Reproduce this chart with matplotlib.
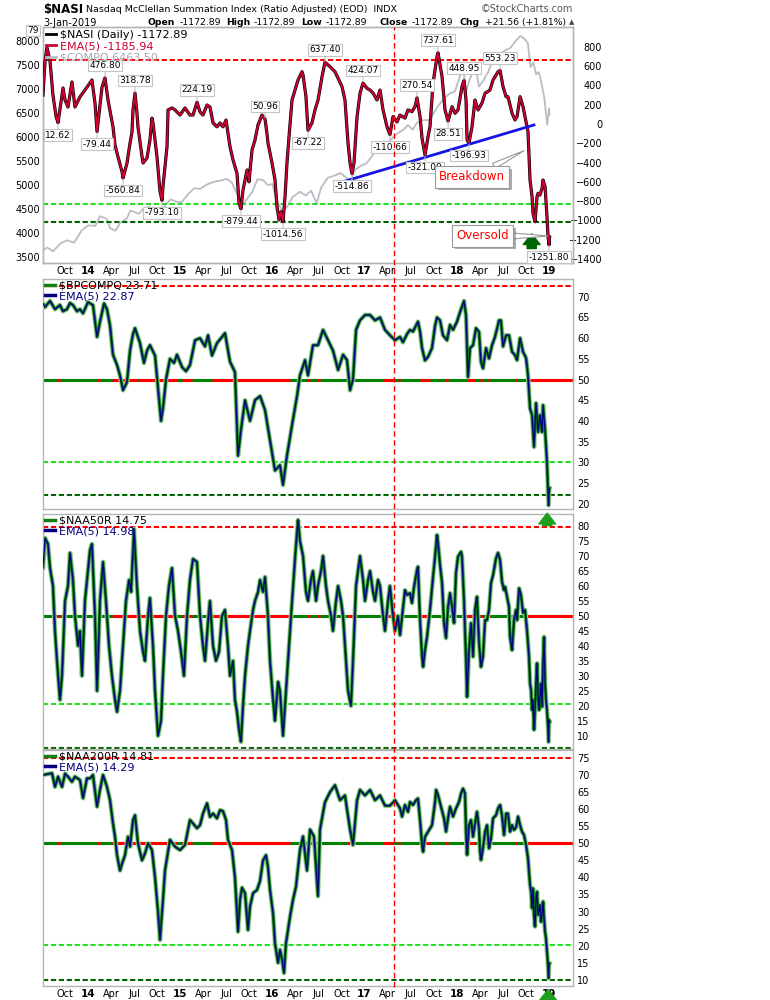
import numpy as np
import matplotlib
matplotlib.use('Agg')
import matplotlib.pyplot as plt
import matplotlib.transforms as mtransforms
import matplotlib.patheffects as pe
from matplotlib.lines import Line2D

# ---- values (x = decimal years) ----
nasi_t = [2013.512, 2013.534, 2013.555, 2013.588, 2013.620, 2013.653, 2013.675, 2013.696, 2013.729, 2013.751,
          2013.783, 2013.826, 2013.859, 2013.913, 2013.989, 2014.043, 2014.076, 2014.098, 2014.152, 2014.184,
          2014.217, 2014.271, 2014.293, 2014.325, 2014.369, 2014.380, 2014.423, 2014.456, 2014.477, 2014.488,
          2014.510, 2014.531, 2014.542, 2014.586, 2014.597, 2014.640, 2014.672, 2014.694, 2014.705, 2014.748,
          2014.781, 2014.803, 2014.813, 2014.857, 2014.868, 2014.911, 2014.944, 2014.998, 2015.052, 2015.106,
          2015.139, 2015.182, 2015.215, 2015.247, 2015.291, 2015.323, 2015.356, 2015.399, 2015.432, 2015.464,
          2015.497, 2015.518, 2015.540, 2015.573, 2015.616, 2015.638, 2015.659, 2015.681, 2015.703, 2015.725,
          2015.746, 2015.779, 2015.811, 2015.844, 2015.887, 2015.920, 2015.941, 2015.952, 2015.996, 2016.028,
          2016.050, 2016.072, 2016.093, 2016.115, 2016.137, 2016.158, 2016.180, 2016.213, 2016.245, 2016.278,
          2016.321, 2016.332, 2016.364, 2016.386, 2016.429, 2016.462, 2016.495, 2016.538, 2016.570, 2016.625,
          2016.679, 2016.712, 2016.755, 2016.787, 2016.820, 2016.842, 2016.863, 2016.885, 2016.918, 2016.950,
          2016.983, 2017.026, 2017.059, 2017.091, 2017.134, 2017.167, 2017.200, 2017.243, 2017.275, 2017.308,
          2017.351, 2017.384, 2017.438, 2017.471, 2017.514, 2017.547, 2017.568, 2017.601, 2017.623, 2017.655,
          2017.688, 2017.709, 2017.742, 2017.785, 2017.796, 2017.840, 2017.872, 2017.905, 2017.948, 2017.981,
          2018.013, 2018.056, 2018.078, 2018.100, 2018.111, 2018.132, 2018.165, 2018.197, 2018.230, 2018.273,
          2018.306, 2018.360, 2018.393, 2018.447, 2018.469, 2018.501, 2018.534, 2018.555, 2018.599, 2018.631,
          2018.653, 2018.686, 2018.718, 2018.740, 2018.772, 2018.794, 2018.816, 2018.826, 2018.848, 2018.870,
          2018.881, 2018.902, 2018.924, 2018.935, 2018.957, 2018.978, 2018.989, 2019.000, 2019.006]
nasi_v = [300, 650, 792, 650, 300, 80, 12.62, 150, 372, 248,
          175, 435, 175, 280, 380, 455, 215, -79.44, 380, 476.80,
          248, -30, -218, -340, -495, -560.84, -406, -198, -85, 145,
          318.78, 112, -30, -340, -405, -353, -167, 60, 10, -340,
          -700, -793.10, -650, -236, 145, 165, 145, 92, 165, 92,
          92, 224.19, 124, 92, 196, 175, 10, -30, 10, -30,
          40, -95, -236, -374, -512, -820, -879.44, -685, -581, -477,
          -600, -270, -167, -11, 92, 50.96, -100, -198, -405, -580,
          -857, -995, -910, -1014.56, -754, -405, -132, 248, 351, 455,
          540, 507, 282, -67.22, 10, 145, 248, 490, 637.40, 593,
          540, 473, 386, 248, -198, -405, -514.86, -405, 75, 317,
          424.07, 369, 351, 320, 248, 351, 145, -30, -110.66, 75,
          20, 92, 60, 145, 127, 180, 270.54, 75, -150, -321.09,
          -132, -28, 421, 696, 737.61, 489, 145, 28.51, 178, 110,
          145, 386, 448.95, 248, -167, -196.93, -28, 248, 145, 216,
          317, 351, 455, 540, 553.23, 386, 282, 282, 110, 41,
          75, 282, 178, 75, -80, -581, -754, -926, -1013, -754,
          -719, -737, -667, -581, -650, -961, -1168, -1251.80, -1172.89]

compq_t = [2013.512, 2013.56, 2013.62, 2013.70, 2013.77, 2013.85, 2013.93, 2014.00, 2014.08, 2014.13,
           2014.20, 2014.24, 2014.30, 2014.35, 2014.42, 2014.46, 2014.55, 2014.60, 2014.67, 2014.72,
           2014.78, 2014.84, 2014.90, 2014.96, 2015.02, 2015.08, 2015.15, 2015.22, 2015.28, 2015.34,
           2015.40, 2015.46, 2015.50, 2015.56, 2015.62, 2015.66, 2015.72, 2015.78, 2015.84, 2015.90,
           2015.95, 2016.00, 2016.04, 2016.11, 2016.16, 2016.22, 2016.30, 2016.36, 2016.42, 2016.48,
           2016.53, 2016.60, 2016.68, 2016.74, 2016.80, 2016.85, 2016.90, 2016.96, 2017.02, 2017.10,
           2017.18, 2017.26, 2017.34, 2017.42, 2017.47, 2017.52, 2017.57, 2017.64, 2017.70, 2017.75,
           2017.80, 2017.86, 2017.92, 2017.98, 2018.04, 2018.07, 2018.10, 2018.14, 2018.20, 2018.24,
           2018.28, 2018.34, 2018.40, 2018.46, 2018.52, 2018.58, 2018.64, 2018.69, 2018.73, 2018.77,
           2018.80, 2018.83, 2018.86, 2018.89, 2018.92, 2018.95, 2018.98, 2019.00, 2019.006]
compq_v = [3640, 3700, 3620, 3780, 3850, 3800, 4050, 4160, 4150, 4350,
           4300, 4100, 4050, 4220, 4300, 4470, 4400, 4500, 4550, 4450,
           4250, 4600, 4700, 4650, 4650, 4800, 4930, 4920, 5000, 5050,
           5080, 5100, 5130, 5050, 4800, 4550, 4700, 4850, 5120, 5100,
           5000, 5020, 4700, 4450, 4550, 4750, 4860, 4780, 4880, 4620,
           4950, 5150, 5200, 5250, 5150, 5100, 5320, 5400, 5450, 5650,
           5850, 5900, 6050, 6150, 6250, 6150, 6300, 6350, 6350, 6500,
           6650, 6800, 6900, 6950, 7300, 7450, 6950, 7200, 7480, 7050,
           7150, 7350, 7650, 7700, 7800, 7850, 8000, 8100, 8050, 7950,
           7450, 7550, 7300, 7350, 7100, 6800, 6250, 6600, 6463.50]

bp_t = [2013.512, 2013.534, 2013.588, 2013.642, 2013.696, 2013.729, 2013.772, 2013.805, 2013.837, 2013.881,
        2013.913, 2013.946, 2014.000, 2014.054, 2014.098, 2014.130, 2014.174, 2014.206, 2014.239, 2014.271,
        2014.315, 2014.347, 2014.380, 2014.423, 2014.456, 2014.488, 2014.510, 2014.564, 2014.607, 2014.640,
        2014.672, 2014.727, 2014.759, 2014.792, 2014.813, 2014.846, 2014.889, 2014.933, 2014.965, 2015.020,
        2015.063, 2015.106, 2015.161, 2015.215, 2015.269, 2015.302, 2015.345, 2015.399, 2015.443, 2015.486,
        2015.540, 2015.594, 2015.627, 2015.659, 2015.703, 2015.757, 2015.811, 2015.866, 2015.920, 2015.974,
        2016.028, 2016.082, 2016.115, 2016.158, 2016.213, 2016.267, 2016.299, 2016.354, 2016.386, 2016.440,
        2016.494, 2016.549, 2016.603, 2016.657, 2016.712, 2016.766, 2016.809, 2016.842, 2016.874, 2016.907,
        2016.950, 2017.004, 2017.059, 2017.113, 2017.167, 2017.221, 2017.275, 2017.330, 2017.384, 2017.416,
        2017.460, 2017.492, 2017.525, 2017.579, 2017.601, 2017.623, 2017.655, 2017.688, 2017.731, 2017.764,
        2017.785, 2017.818, 2017.850, 2017.894, 2017.926, 2017.959, 2018.002, 2018.035, 2018.078, 2018.100,
        2018.121, 2018.143, 2018.176, 2018.208, 2018.241, 2018.262, 2018.284, 2018.317, 2018.349, 2018.382,
        2018.414, 2018.458, 2018.479, 2018.501, 2018.534, 2018.566, 2018.599, 2018.631, 2018.653, 2018.686,
        2018.718, 2018.751, 2018.772, 2018.794, 2018.816, 2018.837, 2018.859, 2018.881, 2018.902, 2018.924,
        2018.935, 2018.957, 2018.978, 2018.995, 2019.000, 2019.006]
bp_v = [68.4, 67.5, 69, 67, 68, 66.5, 67, 68.5, 68, 66.5,
        67, 66, 68.7, 68, 60.3, 64, 68.4, 67, 63, 56,
        53.5, 51, 47.4, 49.4, 57, 61, 62.4, 58.8, 54, 57,
        58.3, 55.8, 48, 40, 43, 50, 55, 54, 56, 53,
        52, 53.5, 59.5, 60, 58, 60.7, 55.8, 58.8, 60, 61.2,
        54.3, 51.8, 31.6, 37.8, 45, 40, 45, 46, 42.6, 35.3,
        28, 29.3, 24.5, 31.6, 39, 46, 51, 54.7, 51, 58.3,
        58.3, 62, 59.5, 57, 52.3, 56, 54.7, 47.4, 50, 62,
        64.3, 65.6, 65.6, 64.3, 65, 62, 60.7, 59.5, 60.3, 59,
        61, 62, 61.6, 64, 61.6, 57.6, 54.6, 55.5, 57.6, 63,
        65, 64.3, 60.7, 59.5, 63.2, 62, 64, 66.3, 69, 65.5,
        50.6, 57.6, 58.3, 62.4, 61.5, 54.3, 52.7, 57.6, 55.1, 58.3,
        60.3, 64.3, 64.3, 58, 60.7, 60.7, 56.7, 55.9, 54.7, 60,
        56.7, 55.2, 51, 43, 41.4, 33.7, 44.3, 37.3, 41.4, 37.3,
        43.8, 37.8, 30, 19.6, 22.8, 23.71]

n50_t = [2013.512, 2013.534, 2013.566, 2013.588, 2013.620, 2013.642, 2013.664, 2013.696, 2013.718, 2013.751,
         2013.783, 2013.805, 2013.837, 2013.859, 2013.892, 2013.913, 2013.935, 2013.967, 2014.000, 2014.022,
         2014.043, 2014.076, 2014.098, 2014.130, 2014.163, 2014.195, 2014.228, 2014.260, 2014.293, 2014.315,
         2014.347, 2014.380, 2014.412, 2014.445, 2014.467, 2014.499, 2014.531, 2014.564, 2014.597, 2014.618,
         2014.651, 2014.672, 2014.705, 2014.727, 2014.759, 2014.792, 2014.813, 2014.846, 2014.878, 2014.911,
         2014.944, 2014.976, 2015.009, 2015.041, 2015.074, 2015.106, 2015.139, 2015.182, 2015.215, 2015.247,
         2015.269, 2015.302, 2015.323, 2015.356, 2015.388, 2015.421, 2015.453, 2015.486, 2015.518, 2015.540,
         2015.573, 2015.594, 2015.616, 2015.638, 2015.659, 2015.681, 2015.703, 2015.735, 2015.757, 2015.790,
         2015.811, 2015.844, 2015.866, 2015.898, 2015.920, 2015.952, 2015.974, 2016.007, 2016.028, 2016.061,
         2016.082, 2016.115, 2016.147, 2016.180, 2016.213, 2016.245, 2016.267, 2016.278, 2016.299, 2016.332,
         2016.364, 2016.386, 2016.418, 2016.440, 2016.473, 2016.494, 2016.527, 2016.549, 2016.581, 2016.603,
         2016.636, 2016.657, 2016.690, 2016.712, 2016.744, 2016.766, 2016.798, 2016.820, 2016.852, 2016.874,
         2016.907, 2016.929, 2016.950, 2016.983, 2017.004, 2017.037, 2017.059, 2017.091, 2017.113, 2017.145,
         2017.167, 2017.200, 2017.221, 2017.254, 2017.275, 2017.308, 2017.330, 2017.362, 2017.384, 2017.406,
         2017.438, 2017.460, 2017.492, 2017.514, 2017.536, 2017.568, 2017.579, 2017.601, 2017.623, 2017.634,
         2017.655, 2017.677, 2017.709, 2017.742, 2017.764, 2017.785, 2017.796, 2017.818, 2017.840, 2017.861,
         2017.883, 2017.905, 2017.926, 2017.948, 2017.970, 2017.991, 2018.013, 2018.046, 2018.056, 2018.078,
         2018.100, 2018.111, 2018.132, 2018.154, 2018.176, 2018.197, 2018.219, 2018.241, 2018.262, 2018.284,
         2018.306, 2018.328, 2018.349, 2018.371, 2018.393, 2018.425, 2018.447, 2018.469, 2018.490, 2018.512,
         2018.523, 2018.545, 2018.566, 2018.577, 2018.599, 2018.620, 2018.642, 2018.653, 2018.675, 2018.696,
         2018.718, 2018.740, 2018.761, 2018.783, 2018.794, 2018.805, 2018.816, 2018.826, 2018.837, 2018.848,
         2018.859, 2018.870, 2018.881, 2018.892, 2018.902, 2018.913, 2018.924, 2018.935, 2018.946, 2018.957,
         2018.967, 2018.978, 2018.989, 2018.995, 2019.000, 2019.006]
n50_v = [66, 76, 74, 66, 60, 45, 35, 22, 30, 55,
         60, 71, 62, 50, 40, 45, 30, 55, 65, 72,
         74, 50, 25, 55, 68, 55, 40, 30, 22, 18,
         25, 40, 55, 62, 58, 79, 60, 45, 38, 35,
         50, 56, 40, 25, 10, 15, 30, 50, 60, 66,
         50, 45, 38, 30, 50, 62, 69, 68, 50, 40,
         35, 48, 55, 40, 35, 38, 50, 52, 40, 30,
         35, 22, 18, 12, 8, 20, 30, 40, 45, 52,
         55, 58, 62, 58, 63, 50, 35, 22, 15, 28,
         25, 10, 25, 40, 55, 69, 78, 82, 75, 70,
         58, 55, 62, 65, 55, 60, 65, 70, 60, 55,
         50, 45, 55, 60, 55, 50, 35, 25, 20, 35,
         60, 65, 70, 62, 55, 62, 65, 58, 55, 62,
         60, 50, 45, 55, 60, 50, 45, 50, 43.6, 49.7,
         58.6, 57, 57.6, 54.3, 59.7, 65.3, 66.4, 48.6, 36.4, 33,
         38.6, 43, 52, 63, 69.8, 77, 74.3, 67, 61, 47.6,
         42.6, 53, 57.6, 53, 47.6, 64.3, 69.8, 71.4, 69.8, 55.3,
         35.3, 23, 38.6, 47.6, 36.4, 52, 56.4, 41, 33, 36.4,
         48.6, 48.6, 52, 61, 63.6, 69.2, 71, 68.7, 61.4, 58.6,
         59.7, 56.4, 53, 43, 38.6, 48.6, 52, 48.6, 59.2, 57,
         51, 52, 45.3, 36.4, 27.5, 25.3, 18.6, 22, 12, 18.6,
         27.5, 34.2, 23, 18.6, 23, 27.5, 19.7, 34.2, 43, 27.5,
         22, 18.6, 13, 8, 15.3, 14.75]

n200_t = [2013.512, 2013.610, 2013.642, 2013.675, 2013.718, 2013.751, 2013.783, 2013.826, 2013.859, 2013.913,
          2013.946, 2013.989, 2014.022, 2014.054, 2014.098, 2014.130, 2014.163, 2014.206, 2014.239, 2014.271,
          2014.293, 2014.315, 2014.347, 2014.369, 2014.401, 2014.434, 2014.456, 2014.488, 2014.510, 2014.542,
          2014.586, 2014.618, 2014.651, 2014.694, 2014.727, 2014.759, 2014.781, 2014.813, 2014.835, 2014.889,
          2014.944, 2014.998, 2015.052, 2015.106, 2015.139, 2015.182, 2015.215, 2015.247, 2015.291, 2015.323,
          2015.356, 2015.399, 2015.432, 2015.464, 2015.497, 2015.518, 2015.562, 2015.594, 2015.627, 2015.649,
          2015.670, 2015.703, 2015.735, 2015.757, 2015.790, 2015.833, 2015.866, 2015.898, 2015.931, 2015.952,
          2015.974, 2016.007, 2016.028, 2016.061, 2016.082, 2016.104, 2016.126, 2016.147, 2016.191, 2016.223,
          2016.256, 2016.299, 2016.332, 2016.375, 2016.408, 2016.451, 2016.494, 2016.516, 2016.570, 2016.625,
          2016.679, 2016.733, 2016.787, 2016.842, 2016.874, 2016.918, 2016.950, 2017.004, 2017.059, 2017.113,
          2017.167, 2017.221, 2017.275, 2017.330, 2017.384, 2017.406, 2017.438, 2017.471, 2017.492, 2017.525,
          2017.557, 2017.579, 2017.601, 2017.623, 2017.634, 2017.655, 2017.688, 2017.731, 2017.764, 2017.775,
          2017.796, 2017.829, 2017.861, 2017.883, 2017.905, 2017.926, 2017.959, 2017.991, 2018.024, 2018.046,
          2018.067, 2018.089, 2018.100, 2018.111, 2018.132, 2018.154, 2018.176, 2018.197, 2018.219, 2018.241,
          2018.252, 2018.262, 2018.284, 2018.306, 2018.328, 2018.349, 2018.371, 2018.393, 2018.425, 2018.447,
          2018.469, 2018.490, 2018.512, 2018.534, 2018.555, 2018.577, 2018.599, 2018.620, 2018.642, 2018.664,
          2018.686, 2018.707, 2018.729, 2018.751, 2018.772, 2018.794, 2018.805, 2018.816, 2018.826, 2018.837,
          2018.848, 2018.859, 2018.870, 2018.881, 2018.902, 2018.913, 2018.924, 2018.935, 2018.946, 2018.957,
          2018.967, 2018.978, 2018.989, 2018.995, 2019.000, 2019.006]
n200_v = [70, 70.5, 66.5, 69.5, 66.5, 70.4, 69.5, 68, 69.5, 68.5,
          63.2, 69, 69, 70, 60.7, 65.6, 70, 66.5, 62.6, 55.8,
          51.9, 46.5, 42, 44, 46.5, 51.9, 49, 56.8, 58.2, 50,
          45, 47, 50, 48, 40, 30, 21.7, 33.4, 42, 51,
          49, 48, 49.5, 56.8, 55.8, 54.4, 55.3, 58.7, 61.7, 57.7,
          58.7, 57.3, 59.7, 59.4, 56.8, 51, 48, 40, 24.1, 33.4,
          37, 35.4, 24.6, 31.4, 35.4, 36.3, 39, 45, 46.5, 43,
          36.3, 29.5, 20.7, 15, 18.8, 16, 12, 20.7, 28.5, 33.4,
          37.3, 48, 52, 42, 54, 52, 34.5, 54, 62, 65,
          67, 62.6, 64, 54, 49.5, 62.6, 65.6, 64, 65.6, 62.6,
          64, 61, 61, 62.6, 60.2, 57.8, 61.2, 59.2, 62.1, 61.2,
          62.6, 63.1, 56.8, 49.5, 47.5, 51.9, 53.4, 55.3, 62.1, 65.6,
          64.1, 60.7, 57.3, 53.4, 57.3, 60.7, 57.8, 60.2, 62.1, 64.6,
          66, 64.6, 53.4, 46.6, 55.3, 56.8, 51.9, 55.7, 59.2, 54.2,
          47.5, 45.1, 48.5, 53.4, 55.3, 48.5, 51.4, 57.3, 58.2, 60.2,
          61.2, 58.2, 52.4, 58.7, 58.7, 53.4, 55.3, 53.9, 54.6, 57.8,
          55.3, 53.4, 52.4, 49.5, 45.6, 37.8, 35.8, 31, 36.8, 29,
          25.6, 33.9, 35.8, 29, 31.9, 27, 29, 32.9, 28, 24.1,
          22.2, 18.3, 14.4, 10.5, 14.4, 14.81]

# periods where the 50 line is drawn red (start, end)
red_periods = [(2013.664, 2013.696), (2014.098, 2014.130), (2014.260, 2014.531), (2014.542, 2014.965),
               (2015.020, 2015.128), (2015.345, 2016.191), (2016.375, 2016.408), (2016.483, 2016.516),
               (2016.809, 2016.896), (2017.200, 2017.308), (2017.362, 2017.384), (2017.601, 2017.709),
               (2017.872, 2017.905), (2018.111, 2018.197), (2018.252, 2018.284), (2018.338, 2018.360),
               (2018.631, 2018.653), (2018.740, 2019.26)]

# peak / trough labels on the summation index
label_t = [2013.675, 2014.098, 2014.184, 2014.380, 2014.510, 2014.803, 2015.182, 2015.659, 2015.920,
           2016.115, 2016.386, 2016.570, 2016.863, 2016.983, 2017.275, 2017.568, 2017.655, 2017.796,
           2017.905, 2018.078, 2018.132, 2018.469, 2019.000]
label_v = ['12.62', '-79.44', '476.80', '-560.84', '318.78', '-793.10', '224.19', '-879.44', '50.96',
           '-1014.56', '-67.22', '637.40', '-514.86', '424.07', '-110.66', '270.54', '-321.09', '737.61',
           '28.51', '448.95', '-196.93', '553.23', '-1251.80']
label_up = [False, False, True, False, True, False, True, False, True,
            False, False, True, False, True, False, True, False, True,
            False, True, False, True, False]

W, H = 770, 1000
X0, X1 = 2013.512, 2019.26
RED = '#ff0000'
LGREEN = '#22e022'
DGREEN = '#006400'
FRAME = '#b4b4b4'

fig = plt.figure(figsize=(W / 100, H / 100), dpi=100)
fig.patch.set_facecolor('white')


def px_axes(top, bottom):
    return fig.add_axes([43 / W, 1 - bottom / H, 530 / W, (bottom - top) / H])


def ftext(x, y, s, **kw):
    kw.setdefault('va', 'center')
    fig.text(x / W, 1 - y / H, s, **kw)


def frame(ax):
    for sp in ax.spines.values():
        sp.set_color(FRAME)
        sp.set_linewidth(1)


def dash(ax, y, color, lw=1.5):
    ax.axhline(y, color=color, lw=lw, dashes=(2.5, 1.3), zorder=1)


# x ticks: Jan (year), Apr, Jul, Oct
xt, xl = [], []
for yr in range(2013, 2020):
    for m, name in [(1, None), (4, 'Apr'), (7, 'Jul'), (10, 'Oct')]:
        t = yr + (m - 1) / 12
        if X0 + 0.02 < t < X1 - 0.02:
            xt.append(t)
            xl.append(str(yr)[2:] if name is None else name)


def xlabels(ax, show):
    ax.set_xlim(X0, X1)
    ax.set_xticks(xt)
    if show:
        ax.set_xticklabels(xl)
        for lbl in ax.get_xticklabels():
            lbl.set_fontsize(7)
            if lbl.get_text().isdigit():
                lbl.set_fontweight('bold')
                lbl.set_fontsize(7.5)
        ax.tick_params(axis='x', length=0, pad=2.5)
    else:
        ax.tick_params(axis='x', length=0, labelbottom=False)


# ---------------- top panel ----------------
ax1 = px_axes(27, 263)
ax1n = ax1.twinx()
frame(ax1)
frame(ax1n)
ax1.plot(compq_t, compq_v, color='#b9bdc4', lw=1.3)
ax1.set_ylim(3377, 8287)
ax1.set_yticks(np.arange(3500, 8001, 500))
ax1.tick_params(axis='y', length=0, pad=2, labelsize=7)
xlabels(ax1, True)

ax1n.set_ylim(-1441, 1004)
ax1n.set_yticks(np.arange(-1400, 801, 200))
ax1n.tick_params(axis='y', length=0, pad=21, labelsize=7)
plt.setp(ax1n.get_yticklabels(), ha='right')
dash(ax1n, 660, RED)
dash(ax1n, -830, LGREEN)
dash(ax1n, -1013, DGREEN)
ax1n.plot(nasi_t, nasi_v, color='black', lw=2.3, zorder=3)
ax1n.plot(nasi_t, nasi_v, color='#cc0033', lw=1.4, zorder=3)
ax1n.plot([2016.766, 2018.837], [-599, -11], color='#1414e6', lw=2, zorder=3)

for t, s, up in zip(label_t, label_v, label_up):
    ax1n.annotate(s, xy=(t, float(s)), xytext=(0, 9 if up else -9), textcoords='offset points',
                  ha='center', va='center', fontsize=6.5, zorder=4,
                  bbox=dict(boxstyle='square,pad=0.15', fc='white', ec='#c4c4c4', lw=0.8),
                  arrowprops=dict(arrowstyle='-', color='#c4c4c4', lw=0.8, shrinkA=0, shrinkB=1))
ax1n.annotate('79', xy=(2013.555, 792), xytext=(-6, 12.5), textcoords='offset points',
              ha='right', va='center', fontsize=6.5, annotation_clip=False,
              bbox=dict(boxstyle='square,pad=0.1', fc='white', ec='#c4c4c4', lw=0.8))

shadow = [pe.withSimplePatchShadow(offset=(2, -2), shadow_rgbFace='#777777', alpha=0.6)]
for txt, xy, xyt in [('Breakdown', (2018.729, -277), (2018.165, -550)),
                     ('Oversold', (2018.989, -1161), (2018.279, -1161))]:
    a = ax1n.annotate(txt, xy=xy, xytext=xyt, color='red', fontsize=8.5, ha='center', va='center', zorder=6,
                      bbox=dict(boxstyle='square,pad=0.35', fc='white', ec='#999999', lw=0.8),
                      arrowprops=dict(arrowstyle='wedge,tail_width=0.5', fc='white', ec='#999999', lw=0.8,
                                      shrinkA=0, shrinkB=0))
    a.get_bbox_patch().set_path_effects(shadow)

ax1n.annotate('', xy=(2018.812, -1110), xytext=(2018.812, -1320), zorder=5,
              arrowprops=dict(arrowstyle='simple,head_width=1.1,head_length=0.7,tail_width=0.6',
                              fc=DGREEN, ec=DGREEN, mutation_scale=11))

ax1n.legend(handles=[Line2D([], [], color='black', lw=2),
                     Line2D([], [], color='#cc0033', lw=2),
                     Line2D([], [], color='#b9bdc4', lw=2)],
            labels=['$NASI (Daily) -1172.89', 'EMA(5) -1185.94', '$COMPQ 6463.50'],
            labelcolor=['black', '#cc0033', '#a5a9b0'], loc='upper left', frameon=False, fontsize=8,
            handlelength=0.9, handletextpad=0.4, labelspacing=0.12, borderaxespad=0.1, borderpad=0.15)


# ---------------- breadth panels ----------------
def breadth(ax, t, v, ylim, ticks, red_y, lg_y, dg_y, mid_y, name, ema_name):
    frame(ax)
    ax.set_ylim(*ylim)
    ax.yaxis.tick_right()
    ax.set_yticks(ticks)
    ax.tick_params(axis='y', length=0, pad=3, labelsize=7)
    dash(ax, red_y, RED)
    dash(ax, lg_y, LGREEN)
    dash(ax, dg_y, DGREEN)
    ax.axhline(mid_y, color='#008000', lw=2.2, zorder=1)
    ax.hlines([mid_y] * len(red_periods), [a for a, b in red_periods], [b for a, b in red_periods],
              color=RED, lw=2.2, zorder=1)
    ax.plot(t, v, color='#9ed09e', lw=3.4, zorder=2)
    ax.plot(t, v, color='#137d13', lw=2.1, zorder=2)
    ax.plot(t, v, color='#000080', lw=0.9, zorder=3)
    leg = ax.legend(handles=[Line2D([], [], color='#137d13', lw=2.5), Line2D([], [], color='#000080', lw=2.5)],
                    labels=[name, ema_name], loc='upper left', frameon=False, fontsize=8,
                    handlelength=0.9, handletextpad=0.4, labelspacing=0.05, borderaxespad=0.05, borderpad=0.1)
    leg.get_texts()[0].set_color('black')
    leg.get_texts()[1].set_color('#000080')


ax2 = px_axes(279, 509)
breadth(ax2, bp_t, bp_v, (18.7, 74.3), np.arange(20, 71, 5), 72.5, 30, 22, 50,
        '$BPCOMPQ 23.71', 'EMA(5) 22.87')
xlabels(ax2, False)

ax3 = px_axes(514, 749)
breadth(ax3, n50_t, n50_v, (5.6, 84), np.arange(10, 81, 5), 79.5, 20.5, 6, 50,
        '$NAA50R 14.75', 'EMA(5) 14.98')
xlabels(ax3, False)

ax4 = px_axes(750, 986)
breadth(ax4, n200_t, n200_v, (8.2, 77.3), np.arange(10, 76, 5), 75, 20.3, 10, 50,
        '$NAA200R 14.81', 'EMA(5) 14.29')
xlabels(ax4, True)

# up arrows at the lows
ax3.annotate('', xy=(2018.98, 85.2), xytext=(2018.98, 79.2), annotation_clip=False, zorder=5,
             arrowprops=dict(arrowstyle='simple,head_width=1.1,head_length=0.7,tail_width=0.6',
                             fc='#1e9e1e', ec='#1e9e1e', mutation_scale=11))
ax4.annotate('', xy=(2018.99, 8.0), xytext=(2018.99, 2.0), annotation_clip=False, zorder=5,
             arrowprops=dict(arrowstyle='simple,head_width=1.1,head_length=0.7,tail_width=0.6',
                             fc='#1e9e1e', ec='#1e9e1e', mutation_scale=11))

# vertical marker through all panels
trans = mtransforms.blended_transform_factory(ax1.transData, fig.transFigure)
fig.add_artist(Line2D([2017.322, 2017.322], [1 - 987 / H, 1 - 27 / H], transform=trans,
                      color=RED, lw=1, dashes=(4, 2.5)))

# ---------------- header ----------------
ftext(43, 9, '$NASI', fontsize=8.5, fontweight='bold')
ftext(86, 9.5, 'Nasdaq McClellan Summation Index (Ratio Adjusted) (EOD)  INDX', fontsize=6.8)
ftext(573, 9, '\u00a9StockCharts.com', fontsize=7, color='#555555', ha='right')
ftext(43, 22.5, '3-Jan-2019', fontsize=7)
for x, s, bold in [(147, 'Open', True), (180, '-1172.89', False), (226, 'High', True), (254, '-1172.89', False),
                   (301, 'Low', True), (326, '-1172.89', False), (380, 'Close', True), (412, '-1172.89', False),
                   (460, 'Chg', True), (485, '+21.56 (+1.81%)', False)]:
    ftext(x, 22.5, s, fontsize=6.7, fontweight='bold' if bold else 'normal')
ftext(569, 22.5, '\u25b2', fontsize=5, color='#335533')

fig.savefig('out.png', dpi=100, facecolor='white')
